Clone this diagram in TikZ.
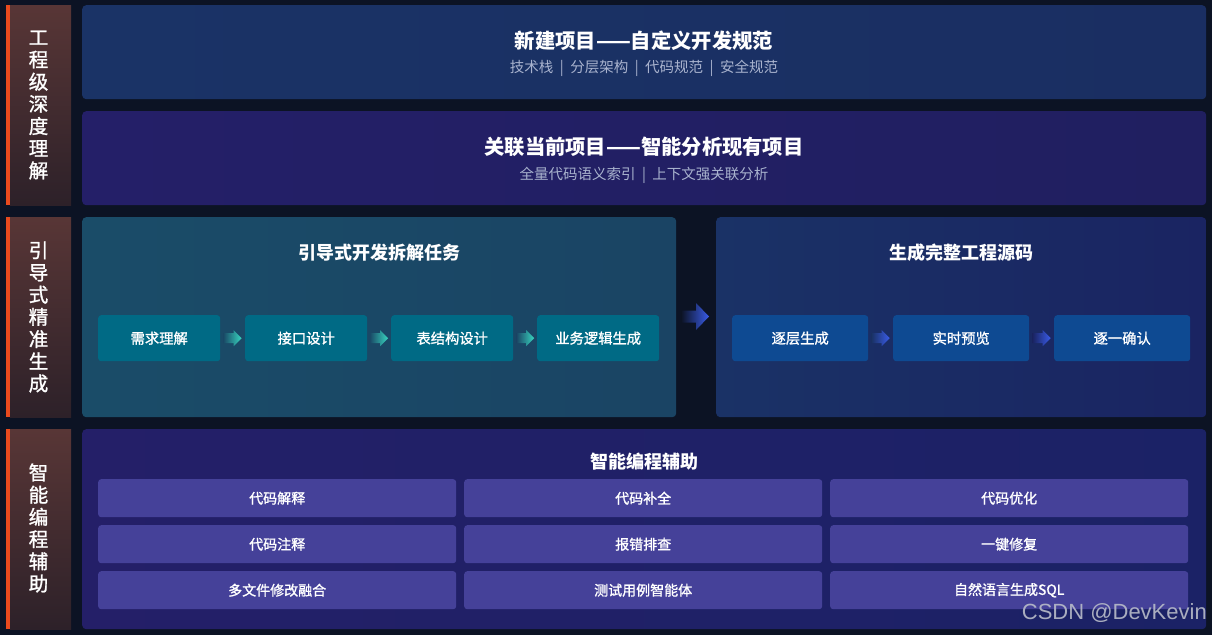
\documentclass[tikz,border=0pt]{standalone}
\usepackage{fontspec}
\setmainfont{Noto Sans CJK SC}
\newfontfamily\medfont{Noto Sans CJK SC}[FakeBold=1.3]
\newfontfamily\wmfont{Liberation Sans}
\usetikzlibrary{calc}
\definecolor{bgc}{HTML}{0C1324}
\definecolor{lblTop}{HTML}{583636}
\definecolor{lblBot}{HTML}{2D2129}
\definecolor{orangebar}{HTML}{E84A1E}
\definecolor{paAL}{HTML}{1A3366}
\definecolor{paAR}{HTML}{1A2E62}
\definecolor{paBL}{HTML}{241F68}
\definecolor{paBR}{HTML}{201F60}
\definecolor{paCL}{HTML}{1A4C68}
\definecolor{paCR}{HTML}{1A4464}
\definecolor{paDL}{HTML}{1A3266}
\definecolor{paDR}{HTML}{1A2462}
\definecolor{paEL}{HTML}{241F68}
\definecolor{paER}{HTML}{1B2266}
\definecolor{stepC}{HTML}{006A85}
\definecolor{stepD}{HTML}{0E4A92}
\definecolor{gridc}{HTML}{454199}
\definecolor{subt}{HTML}{A9B3CE}
\definecolor{teal}{HTML}{38D6C0}
\definecolor{arrblue}{HTML}{3A5CE8}
\definecolor{wmc}{HTML}{B9BDC9}
\tikzset{
  panel/.style={rectangle, anchor=north west, inner sep=0pt, rounded corners=4pt, draw=none},
  sidebox/.style={rectangle, anchor=north west, inner sep=0pt, minimum width=61pt, minimum height=200pt,
    top color=lblTop, bottom color=lblBot},
  sidetext/.style={inner sep=0pt, text=white, align=center,
    font=\medfont\fontsize{19.5}{22.2}\selectfont},
  ptitle/.style={text=white, inner sep=0pt, font=\fontsize{20.3}{23}\selectfont\bfseries},
  ptitlesm/.style={text=white, inner sep=0pt, font=\fontsize{18}{21}\selectfont\bfseries},
  psub/.style={text=subt, inner sep=0pt, font=\fontsize{14.5}{17}\selectfont},
  stepbox/.style={rectangle, anchor=north west, inner sep=0pt, rounded corners=3pt, minimum height=46pt,
    text=white, font=\medfont\fontsize{14.3}{16}\selectfont},
  gridbox/.style={rectangle, anchor=north west, inner sep=0pt, rounded corners=3pt, minimum height=38pt,
    minimum width=358pt, fill=gridc, text=white, font=\medfont\fontsize{14}{16}\selectfont},
}
\newcommand\sep{\hspace{6.5pt}|\hspace{6.5pt}}
% arrow between two nodes: #1 from, #2 to, #3 half length, #4 head length, #5 half head width, #6 half shaft width, #7 fade colour, #8 colour
\newcommand\ArrowBetween[8]{%
  \path let \p1=($(#1.east)!0.5!(#2.west)$) in
    [left color=#7, right color=#8, draw=none]
    (\x1-#3,\y1-#6) -- (\x1+#3-#4,\y1-#6) -- (\x1+#3-#4,\y1-#5) -- (\x1+#3,\y1)
    -- (\x1+#3-#4,\y1+#5) -- (\x1+#3-#4,\y1+#6) -- (\x1-#3,\y1+#6) -- cycle;}
\begin{document}
\begin{tikzpicture}[x=1pt,y=-1pt]
\fill[bgc] (0,0) rectangle (1212,635);
\useasboundingbox (0,0) rectangle (1212,635);

% side labels
\node[sidebox] (l1) at (10,5) {};
\node[sidebox] (l2) at (10,217) {};
\node[sidebox] (l3) at (10,429) {};
\node[sidetext] (l1t) at (38.5,105) {工\\程\\级\\深\\度\\理\\解};
\node[sidetext] (l2t) at (38.5,317) {引\\导\\式\\精\\准\\生\\成};
\node[sidetext] (l3t) at (38.5,528) {智\\能\\编\\程\\辅\\助};
\fill[orangebar] (6,5) rectangle (10,205);
\fill[orangebar] (6,217) rectangle (10,417);
\fill[orangebar] (6,429) rectangle (10,629);

% row 1
\node[panel, minimum width=1124pt, minimum height=94pt, left color=paAL, right color=paAR] (pa) at (82,5) {};
\node[ptitle] (ta) at (644,41) {新建项目——自定义开发规范};
\node[psub] (sa) at (644,68.5) {技术栈\sep 分层架构\sep 代码规范\sep 安全规范};
\node[panel, minimum width=1124pt, minimum height=94pt, left color=paBL, right color=paBR] (pb) at (82,111) {};
\node[ptitle] (tb) at (644,147) {关联当前项目——智能分析现有项目};
\node[psub] (sb) at (644,175) {全量代码语义索引\sep 上下文强关联分析};

% row 2
\node[panel, minimum width=594pt, minimum height=200pt, left color=paCL, right color=paCR] (pc) at (82,217) {};
\node[ptitlesm] (tc) at (379,253) {引导式开发拆解任务};
\node[stepbox, minimum width=122pt, fill=stepC] (c1) at (98,315) {需求理解};
\node[stepbox, minimum width=122pt, fill=stepC] (c2) at (245,315) {接口设计};
\node[stepbox, minimum width=122pt, fill=stepC] (c3) at (391,315) {表结构设计};
\node[stepbox, minimum width=122pt, fill=stepC] (c4) at (537,315) {业务逻辑生成};
\ArrowBetween{c1}{c2}{9}{8}{8}{5}{paCL}{teal}
\ArrowBetween{c2}{c3}{9}{8}{8}{5}{paCL}{teal}
\ArrowBetween{c3}{c4}{9}{8}{8}{5}{paCR}{teal}

\node[panel, minimum width=490pt, minimum height=200pt, left color=paDL, right color=paDR] (pd) at (716,217) {};
\node[ptitlesm] (td) at (961,253) {生成完整工程源码};
\node[stepbox, minimum width=136pt, fill=stepD] (d1) at (732,315) {逐层生成};
\node[stepbox, minimum width=136pt, fill=stepD] (d2) at (893,315) {实时预览};
\node[stepbox, minimum width=136pt, fill=stepD] (d3) at (1054,315) {逐一确认};
\ArrowBetween{d1}{d2}{9}{8}{8}{5}{paDL}{arrblue}
\ArrowBetween{d2}{d3}{9}{8}{8}{5}{paDR}{arrblue}

\coordinate (bigL) at (676,316.5);
\coordinate (bigR) at (716,316.5);
\path let \p1=($(bigL)!0.5!(bigR)$) in
  [left color=bgc, right color=arrblue]
  (\x1-15,\y1-6) -- (\x1,\y1-6) -- (\x1,\y1-13.5) -- (\x1+13,\y1)
  -- (\x1,\y1+13.5) -- (\x1,\y1+6) -- (\x1-15,\y1+6) -- cycle;

% row 3
\node[panel, minimum width=1124pt, minimum height=200pt, left color=paEL, right color=paER] (pe) at (82,429) {};
\node[ptitlesm] (te) at (644,462) {智能编程辅助};
\node[gridbox] (g11) at (98,479) {代码解释};
\node[gridbox] (g12) at (464,479) {代码补全};
\node[gridbox] (g13) at (830,479) {代码优化};
\node[gridbox] (g21) at (98,525) {代码注释};
\node[gridbox] (g22) at (464,525) {报错排查};
\node[gridbox] (g23) at (830,525) {一键修复};
\node[gridbox] (g31) at (98,571) {多文件修改融合};
\node[gridbox] (g32) at (464,571) {测试用例智能体};
\node[gridbox] (g33) at (830,571) {自然语言生成SQL};

% watermark
\node[text=wmc, opacity=0.9, inner sep=0pt, anchor=east, font=\wmfont\fontsize{22}{24}\selectfont] (wm) at (1207,613) {CSDN @DevKevin};
\end{tikzpicture}
\end{document}
